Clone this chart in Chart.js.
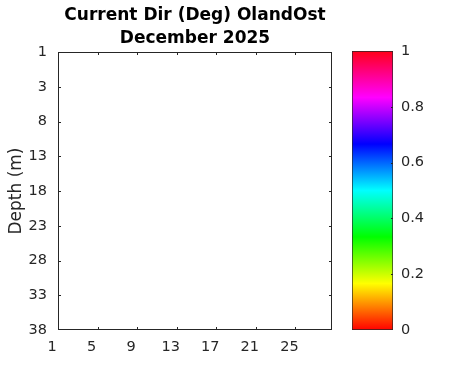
<!DOCTYPE html>
<html>
<head>
<meta charset="utf-8">
<script src="https://cdn.jsdelivr.net/npm/chart.js@4"></script>
<style>
  html, body { margin: 0; padding: 0; background: #fff; }
  #wrap { position: relative; width: 471px; height: 371px; }
  #wrap canvas { position: absolute; left: 0; top: 0; }
</style>
</head>
<body>
<div id="wrap">
  <canvas id="mainChart" width="471" height="371"></canvas>
  <canvas id="cbChart" width="471" height="371"></canvas>
</div>
<script>
// --- data ---
const titleLines = ['Current Dir (Deg) OlandOst', 'December 2025'];
const depthLabels = ['1', '3', '8', '13', '18', '23', '28', '33', '38'];
const dayTicks = [1, 5, 9, 13, 17, 21, 25];
const dayRange = [1, 28.7];
const cbTicks = [0, 0.2, 0.4, 0.6, 0.8, 1];
const cbColors = ['#ff0000', '#ffff00', '#00ff00', '#00ffff', '#0000ff', '#ff00ff', '#ff0018'];

const AX = '#262626';
const tickFont = { family: "'DejaVu Sans', sans-serif", size: 14.5 };

// box + inward tick marks (MATLAB style)
const boxTicks = {
  id: 'boxTicks',
  afterDraw(chart, args, opts) {
    const { ctx, chartArea: a } = chart;
    const len = opts.len || 3;
    ctx.save();
    ctx.strokeStyle = AX;
    ctx.lineWidth = 1;
    ctx.beginPath();
    (opts.x || []).forEach(id => {
      const s = chart.scales[id];
      s.ticks.forEach(t => {
        const px = Math.round(s.getPixelForValue(t.value)) + 0.5;
        if (px < a.left + 2 || px > a.right - 2) return;
        ctx.moveTo(px, a.bottom); ctx.lineTo(px, a.bottom - len);
        ctx.moveTo(px, a.top); ctx.lineTo(px, a.top + len);
      });
    });
    (opts.y || []).forEach(id => {
      const s = chart.scales[id];
      s.ticks.forEach(t => {
        const py = Math.round(s.getPixelForValue(t.value)) + 0.5;
        if (py < a.top + 2 || py > a.bottom - 2) return;
        if (opts.left !== false) { ctx.moveTo(a.left, py); ctx.lineTo(a.left + len, py); }
        ctx.moveTo(a.right, py); ctx.lineTo(a.right - len, py);
      });
    });
    ctx.stroke();
    if (opts.box) {
      ctx.strokeRect(Math.round(a.left) + 0.5, Math.round(a.top) + 0.5,
        Math.round(a.right - a.left) - 1, Math.round(a.bottom - a.top) - 1);
    }
    ctx.restore();
  }
};

// --- main (empty) depth / day plot ---
new Chart(document.getElementById('mainChart'), {
  type: 'scatter',
  data: { datasets: [{ data: [] }] },
  options: {
    responsive: false,
    animation: false,
    layout: { padding: { left: 0, right: 139, top: 0, bottom: 0 } },
    plugins: {
      legend: { display: false },
      tooltip: { enabled: false },
      title: {
        display: true,
        fullSize: false,
        text: titleLines,
        color: '#000',
        font: { family: "'DejaVu Sans', sans-serif", size: 17, weight: 'bold', lineHeight: 1.3 },
        padding: { top: 5, bottom: 2.8 }
      },
      boxTicks: { x: ['x'], y: ['y'], len: 3, box: true }
    },
    scales: {
      x: {
        type: 'linear',
        min: dayRange[0],
        max: dayRange[1],
        grid: { display: false, drawTicks: false },
        border: { display: false },
        afterBuildTicks: s => { s.ticks = dayTicks.map(v => ({ value: v })); },
        afterFit: s => { s.height = 41; },
        ticks: {
          color: AX, font: tickFont, padding: 9, labelOffset: -6,
          maxRotation: 0, autoSkip: false,
          callback: v => String(v)
        }
      },
      y: {
        type: 'linear',
        reverse: true,
        min: 0,
        max: depthLabels.length - 1,
        grid: { display: false, drawTicks: false },
        border: { display: false },
        afterBuildTicks: s => { s.ticks = depthLabels.map((d, i) => ({ value: i })); },
        afterFit: s => { s.width = 58; },
        title: {
          display: true,
          text: 'Depth (m)',
          color: AX,
          font: { family: "'DejaVu Sans', sans-serif", size: 17 },
          padding: { top: 6, bottom: 0 }
        },
        ticks: {
          color: AX, font: tickFont, padding: 11, autoSkip: false,
          callback: v => depthLabels[v]
        }
      }
    }
  },
  plugins: [boxTicks]
});

// --- colorbar ---
new Chart(document.getElementById('cbChart'), {
  type: 'bar',
  data: {
    labels: [''],
    datasets: [{
      data: [[cbTicks[0], cbTicks[cbTicks.length - 1]]],
      barPercentage: 1,
      categoryPercentage: 1,
      borderWidth: 1,
      borderColor: AX,
      borderSkipped: false,
      backgroundColor: c => {
        const ch = c.chart;
        if (!ch.chartArea) return cbColors[0];
        const y = ch.scales.y;
        const g = ch.ctx.createLinearGradient(0, y.getPixelForValue(0), 0, y.getPixelForValue(1));
        cbColors.forEach((col, i) => g.addColorStop(i / (cbColors.length - 1), col));
        return g;
      }
    }]
  },
  options: {
    responsive: false,
    animation: false,
    layout: { padding: { left: 352, right: 0, top: 51, bottom: 41 } },
    plugins: {
      legend: { display: false },
      tooltip: { enabled: false },
      boxTicks: { y: ['y'], len: 2, left: false }
    },
    scales: {
      x: { display: false },
      y: {
        position: 'right',
        min: 0,
        max: 1,
        grid: { display: false, drawTicks: false },
        border: { display: false },
        afterBuildTicks: s => { s.ticks = cbTicks.map(v => ({ value: v })); },
        afterFit: s => { s.width = 78; },
        ticks: {
          color: AX, font: tickFont, padding: 8, autoSkip: false,
          callback: v => String(v)
        }
      }
    }
  },
  plugins: [boxTicks]
});
</script>
</body>
</html>
